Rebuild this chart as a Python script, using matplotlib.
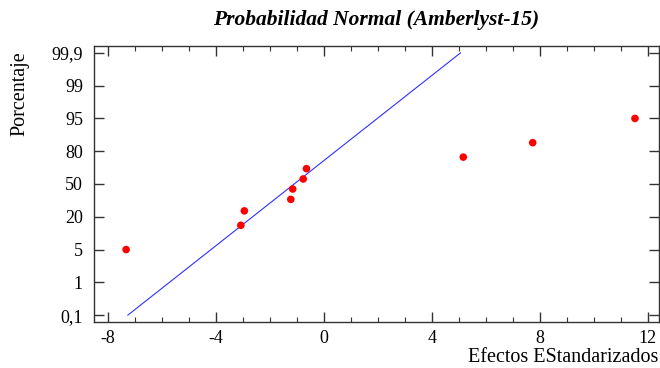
import matplotlib
matplotlib.use("Agg")
import matplotlib.pyplot as plt
from matplotlib.ticker import MultipleLocator
from statistics import NormalDist
import numpy as np

# Data
effects = [-7.33, -3.08, -2.95, -1.23, -1.16, -0.77, -0.65, 5.16, 7.73, 11.52]
percentiles = [5, 15, 25, 35, 45, 55, 65, 75, 85, 95]
ytick_labels = ["0,1", "1", "5", "20", "50", "80", "95", "99", "99,9"]
xtick_values = [-8, -4, 0, 4, 8, 12]
line_intercept = 0.59   # z value at effect 0
line_slope = 0.534      # z per unit effect

nd = NormalDist()
z_pts = [nd.inv_cdf(p / 100.0) for p in percentiles]
# tick positions as drawn (evenly spaced on the probability axis)
z_step = nd.inv_cdf(0.95) / 2.0
ytick_pos = [(k - 4) * z_step for k in range(len(ytick_labels))]

plt.rcParams['font.family'] = ['Liberation Serif', 'DejaVu Serif']

fig = plt.figure(figsize=(6.6, 3.68), dpi=100)
ax = fig.add_axes([94/660, 1-322/368, (659-94)/660, (322-46)/368])

zlo, zhi = ytick_pos[0], ytick_pos[-1]
xl = (np.array([zlo, zhi]) - line_intercept) / line_slope
ax.plot(xl, [zlo, zhi], color='#3030ff', lw=0.8, zorder=2)
ax.scatter(effects, z_pts, s=30, color='#ff0000', edgecolors='none', zorder=3)

ax.set_xlim(-8.52, 12.41)
ax.set_ylim(zlo - 0.21 * z_step, zhi + 0.21 * z_step)
ax.set_xticks(xtick_values)
ax.set_xticklabels([str(v) for v in xtick_values])
ax.xaxis.set_minor_locator(MultipleLocator(1))
ax.set_yticks(ytick_pos)
ax.set_yticklabels(ytick_labels)

ax.tick_params(which='major', direction='in', length=7, width=1, top=True, right=True,
               labelsize=13, color='#333333')
ax.tick_params(axis='y', pad=8)
ax.tick_params(axis='x', pad=6)
ax.tick_params(which='minor', direction='in', length=3.5, width=0.8, top=True, right=True,
               color='#333333')
for s in ax.spines.values():
    s.set_linewidth(1.0)
    s.set_color('#333333')

fig.text((94+659)/2/660, 1-20/368, "Probabilidad Normal (Amberlyst-15)",
         ha='center', va='center', fontsize=15.5, fontweight='bold', fontstyle='italic')
fig.text(20/660, 1-94/368, "Porcentaje", rotation=90, ha='center', va='center', fontsize=14.5)
fig.text(658/660, 1-357/368, "Efectos EStandarizados", ha='right', va='center', fontsize=14.5)

fig.savefig("out.png", dpi=100)
